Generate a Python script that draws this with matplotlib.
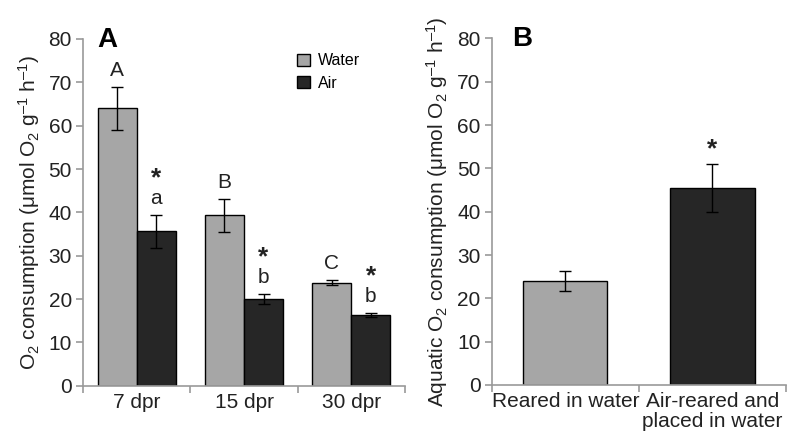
import numpy as np
import matplotlib.pyplot as plt

plt.rcParams['font.family'] = ['Liberation Sans', 'DejaVu Sans']
plt.rcParams['mathtext.fontset'] = 'custom'
plt.rcParams['mathtext.rm'] = 'Liberation Sans'
plt.rcParams['mathtext.it'] = 'Liberation Sans:italic'

# Panel A data
stages = ['7 dpr', '15 dpr', '30 dpr']
water_mean = [64.0, 39.3, 23.8]
water_err = [5.0, 3.8, 0.6]
air_mean = [35.6, 20.0, 16.3]
air_err = [3.8, 1.2, 0.45]
water_letters = ['A', 'B', 'C']
air_letters = ['a', 'b', 'b']

# Panel B data
groups = ['Reared in water', 'Air-reared and\nplaced in water']
aquatic_mean = [24.0, 45.4]
aquatic_err = [2.2, 5.5]

light = '#a6a6a6'
dark = '#262626'
spine_col = '#9a9a9a'
text_col = '#222222'
fs = 15


def style_axes(ax, n):
    for s in ['top', 'right']:
        ax.spines[s].set_visible(False)
    for s in ['left', 'bottom']:
        ax.spines[s].set_color(spine_col)
        ax.spines[s].set_linewidth(1.2)
    ax.set_ylim(0, 80)
    ax.set_yticks(np.arange(0, 81, 10))
    ax.set_xlim(-0.5, n - 0.5)
    ax.set_xticks(np.arange(n))
    ax.set_xticks(np.arange(n + 1) - 0.5, minor=True)
    ax.tick_params(axis='x', which='major', length=0, pad=5, labelsize=fs, colors=text_col)
    ax.tick_params(axis='x', which='minor', length=5, color=spine_col, width=1.2)
    ax.tick_params(axis='y', length=5, color=spine_col, width=1.2, labelsize=fs,
                   labelcolor=text_col, pad=3)


fig = plt.figure(figsize=(7.87, 4.41), dpi=100)
axA = fig.add_axes([0.1055, 0.1254, 0.4091, 0.7862])
axB = fig.add_axes([0.6248, 0.127, 0.3739, 0.786])

# ---- Panel A
x = np.arange(len(stages))
w = 0.364
axA.bar(x - w / 2, water_mean, w, color=light, edgecolor='black', linewidth=1, label='Water', zorder=2)
axA.bar(x + w / 2, air_mean, w, color=dark, edgecolor='black', linewidth=1, label='Air', zorder=2)
axA.errorbar(x - w / 2, water_mean, yerr=water_err, fmt='none', ecolor='black', elinewidth=1,
             capsize=4, capthick=1, zorder=3)
axA.errorbar(x + w / 2, air_mean, yerr=air_err, fmt='none', ecolor='black', elinewidth=1,
             capsize=4, capthick=1, zorder=3)
for i in range(len(stages)):
    axA.text(x[i] - w / 2, water_mean[i] + water_err[i] + 3.8, water_letters[i], ha='center',
             va='center', fontsize=fs, color=text_col)
    axA.text(x[i] + w / 2, air_mean[i] + air_err[i] + 3.8, air_letters[i], ha='center',
             va='center', fontsize=fs, color=text_col)
    axA.text(x[i] + w / 2, air_mean[i] + air_err[i] + 8.4, '*', ha='center',
             va='center', fontsize=fs + 4, fontweight='bold', color=text_col)
style_axes(axA, len(stages))
axA.set_xticklabels(stages)
axA.set_ylabel('O$_2$ consumption (\u03bcmol O$_2$ g$^{\u2013 1}$ h$^{\u2013 1}$)', fontsize=fs,
               color=text_col, labelpad=5)
axA.text(0.043, 1.035, 'A', transform=axA.transAxes, fontsize=20, fontweight='bold',
         va='top', ha='left', color='black')
axA.legend(loc='upper left', bbox_to_anchor=(0.62, 1.0), frameon=False, fontsize=11.5,
           handlelength=0.8, handleheight=0.8, handletextpad=0.5, labelspacing=0.45)

# ---- Panel B
xb = np.arange(len(groups))
wb = 0.573
axB.bar(xb, aquatic_mean, wb, color=[light, dark], edgecolor='black', linewidth=1, zorder=2)
axB.errorbar(xb, aquatic_mean, yerr=aquatic_err, fmt='none', ecolor='black', elinewidth=1,
             capsize=4, capthick=1, zorder=3)
axB.text(xb[1], aquatic_mean[1] + aquatic_err[1] + 3.5, '*', ha='center', va='center',
         fontsize=fs + 4, fontweight='bold', color=text_col)
style_axes(axB, len(groups))
axB.set_xticklabels(groups, linespacing=1.1)
axB.set_ylabel('Aquatic O$_2$ consumption (\u03bcmol O$_2$ g$^{\u2013 1}$ h$^{\u2013 1}$)', fontsize=fs,
               color=text_col, labelpad=5)
axB.text(0.07, 1.035, 'B', transform=axB.transAxes, fontsize=20, fontweight='bold',
         va='top', ha='left', color='black')

fig.savefig('out.png', dpi=100)
